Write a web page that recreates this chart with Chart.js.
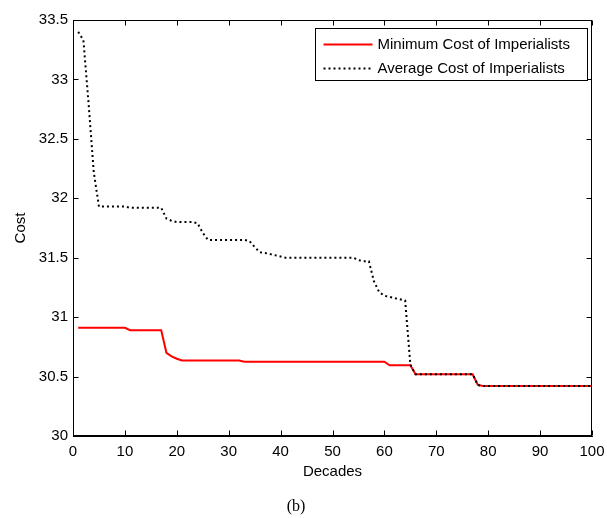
<!DOCTYPE html>
<html>
<head>
<meta charset="utf-8">
<script src="https://cdn.jsdelivr.net/npm/chart.js@4.4.0/dist/chart.umd.min.js"></script>
<style>
html,body{margin:0;padding:0;background:#fff;}
#wrap{width:607px;height:518px;}
</style>
</head>
<body>
<div id="wrap"><canvas id="c" width="607" height="518"></canvas></div>
<script>
// ---- data ----
const decades = [
  1,2,3,4,5,6,7,8,9,10,
  11,12,13,14,15,16,17,18,19,20,
  21,22,23,24,25,26,27,28,29,30,
  31,32,33,34,35,36,37,38,39,40,
  41,42,43,44,45,46,47,48,49,50,
  51,52,53,54,55,56,57,58,59,60,
  61,62,63,64,65,66,67,68,69,70,
  71,72,73,74,75,76,77,78,79,80,
  81,82,83,84,85,86,87,88,89,90,
  91,92,93,94,95,96,97,98,99,100
];
const minCost = [
  30.91,30.91,30.91,30.91,30.91,30.91,30.91,30.91,30.91,30.91,
  30.89,30.89,30.89,30.89,30.89,30.89,30.89,30.70,30.67,30.65,
  30.635,30.635,30.635,30.635,30.635,30.635,30.635,30.635,30.635,30.635,
  30.635,30.635,30.625,30.625,30.625,30.625,30.625,30.625,30.625,30.625,
  30.625,30.625,30.625,30.625,30.625,30.625,30.625,30.625,30.625,30.625,
  30.625,30.625,30.625,30.625,30.625,30.625,30.625,30.625,30.625,30.625,
  30.595,30.595,30.595,30.595,30.595,30.52,30.52,30.52,30.52,30.52,
  30.52,30.52,30.52,30.52,30.52,30.52,30.52,30.43,30.42,30.42,
  30.42,30.42,30.42,30.42,30.42,30.42,30.42,30.42,30.42,30.42,
  30.42,30.42,30.42,30.42,30.42,30.42,30.42,30.42,30.42,30.42
];
const avgCost = [
  33.40,33.33,32.80,32.22,31.93,31.93,31.93,31.93,31.93,31.93,
  31.92,31.92,31.92,31.92,31.92,31.92,31.92,31.83,31.81,31.80,
  31.80,31.80,31.80,31.79,31.71,31.65,31.65,31.65,31.65,31.65,
  31.65,31.65,31.65,31.64,31.59,31.545,31.54,31.53,31.52,31.51,
  31.50,31.50,31.50,31.50,31.50,31.50,31.50,31.50,31.50,31.50,
  31.50,31.50,31.50,31.50,31.48,31.47,31.47,31.30,31.21,31.18,
  31.17,31.16,31.15,31.14,30.60,30.52,30.52,30.52,30.52,30.52,
  30.52,30.52,30.52,30.52,30.52,30.52,30.52,30.43,30.42,30.42,
  30.42,30.42,30.42,30.42,30.42,30.42,30.42,30.42,30.42,30.42,
  30.42,30.42,30.42,30.42,30.42,30.42,30.42,30.42,30.42,30.42
];
const seriesLabels = ['Minimum Cost of Imperialists', 'Average Cost of Imperialists'];
const xTitle = 'Decades';
const yTitle = 'Cost';
const caption = '(b)';
const xRange = [0, 100, 10];
const yRange = [30, 33.5, 0.5];

// ---- plugins ----
const SANS = '"Liberation Sans", Arial, sans-serif';

const framePlugin = {
  id: 'frame',
  afterDraw(chart) {
    const {ctx, chartArea: a, scales: {x, y}} = chart;
    const L = Math.round(a.left) + 0.5, R = Math.round(a.right) - 0.5;
    const T = Math.round(a.top) + 0.5, B = Math.round(a.bottom) - 0.5;
    ctx.save();
    ctx.strokeStyle = '#000';
    ctx.lineWidth = 1;
    ctx.setLineDash([]);
    ctx.strokeRect(L, T, R - L, B - T);
    const tl = 5;
    ctx.beginPath();
    x.ticks.forEach(t => {
      const px = Math.round(x.getPixelForValue(t.value)) + 0.5;
      ctx.moveTo(px, B); ctx.lineTo(px, B - tl);
      ctx.moveTo(px, T); ctx.lineTo(px, T + tl);
    });
    y.ticks.forEach(t => {
      const py = Math.round(y.getPixelForValue(t.value)) + 0.5;
      ctx.moveTo(L, py); ctx.lineTo(L + tl, py);
      ctx.moveTo(R, py); ctx.lineTo(R - tl, py);
    });
    ctx.stroke();

    // legend box
    const W = 272, H = 52;
    const lx = Math.round(a.right - 5 - W) + 0.5, ly = Math.round(a.top + 8) + 0.5;
    ctx.fillStyle = '#fff';
    ctx.fillRect(lx, ly, W, H);
    ctx.strokeRect(lx, ly, W, H);
    ctx.font = '15px ' + SANS;
    ctx.textBaseline = 'middle';
    ctx.textAlign = 'left';
    chart.data.datasets.forEach((ds, i) => {
      const cy = ly + 16 + i * 24;
      ctx.beginPath();
      ctx.strokeStyle = ds.borderColor;
      ctx.lineWidth = ds.borderWidth;
      ctx.setLineDash(ds.borderDash || []);
      ctx.moveTo(lx + 8, cy); ctx.lineTo(lx + 57, cy);
      ctx.stroke();
      ctx.setLineDash([]);
      ctx.fillStyle = '#000';
      ctx.fillText(ds.label, lx + 62, cy + 0.5);
    });
    ctx.restore();
  }
};

new Chart(document.getElementById('c'), {
  type: 'line',
  data: {
    datasets: [
      {
        label: seriesLabels[0],
        data: decades.map((d, i) => ({x: d, y: minCost[i]})),
        borderColor: '#ff0000',
        borderWidth: 2,
        pointRadius: 0,
        tension: 0,
        fill: false,
        order: 1
      },
      {
        label: seriesLabels[1],
        data: decades.map((d, i) => ({x: d, y: avgCost[i]})),
        borderColor: '#000000',
        borderWidth: 2,
        borderDash: [2, 3],
        borderCapStyle: 'butt',
        pointRadius: 0,
        tension: 0,
        fill: false,
        order: 0
      }
    ]
  },
  options: {
    responsive: false,
    animation: false,
    events: [],
    layout: {padding: {left: 0, top: 20, right: 15, bottom: 0}},
    plugins: {
      legend: {display: false},
      tooltip: {enabled: false},
      title: {
        display: true,
        position: 'bottom',
        text: caption,
        color: '#000',
        font: {family: '"Liberation Serif", "Times New Roman", serif', size: 16, weight: 'normal'},
        padding: {top: 0, bottom: 2}
      }
    },
    scales: {
      x: {
        type: 'linear',
        min: xRange[0], max: xRange[1],
        ticks: {stepSize: xRange[2], color: '#000', padding: 7, maxRotation: 0,
                font: {family: SANS, size: 15}},
        grid: {display: false, drawTicks: false},
        border: {display: true, color: '#000', width: 1},
        title: {display: true, text: xTitle, color: '#000',
                font: {family: SANS, size: 15}, padding: {top: 0, bottom: 16}},
        afterFit(s) { s.height = 60.8; s.paddingLeft = 0; s.paddingRight = 0; }
      },
      y: {
        type: 'linear',
        min: yRange[0], max: yRange[1],
        ticks: {stepSize: yRange[2], color: '#000', padding: 5,
                font: {family: SANS, size: 15},
                callback: (v) => String(v)},
        grid: {display: false, drawTicks: false},
        border: {display: true, color: '#000', width: 1},
        title: {display: true, text: yTitle, color: '#000',
                font: {family: SANS, size: 15}, padding: {top: 12, bottom: 0}},
        afterFit(s) { s.width = 73; s.paddingTop = 0; s.paddingBottom = 0; }
      }
    }
  },
  plugins: [framePlugin]
});
</script>
</body>
</html>
